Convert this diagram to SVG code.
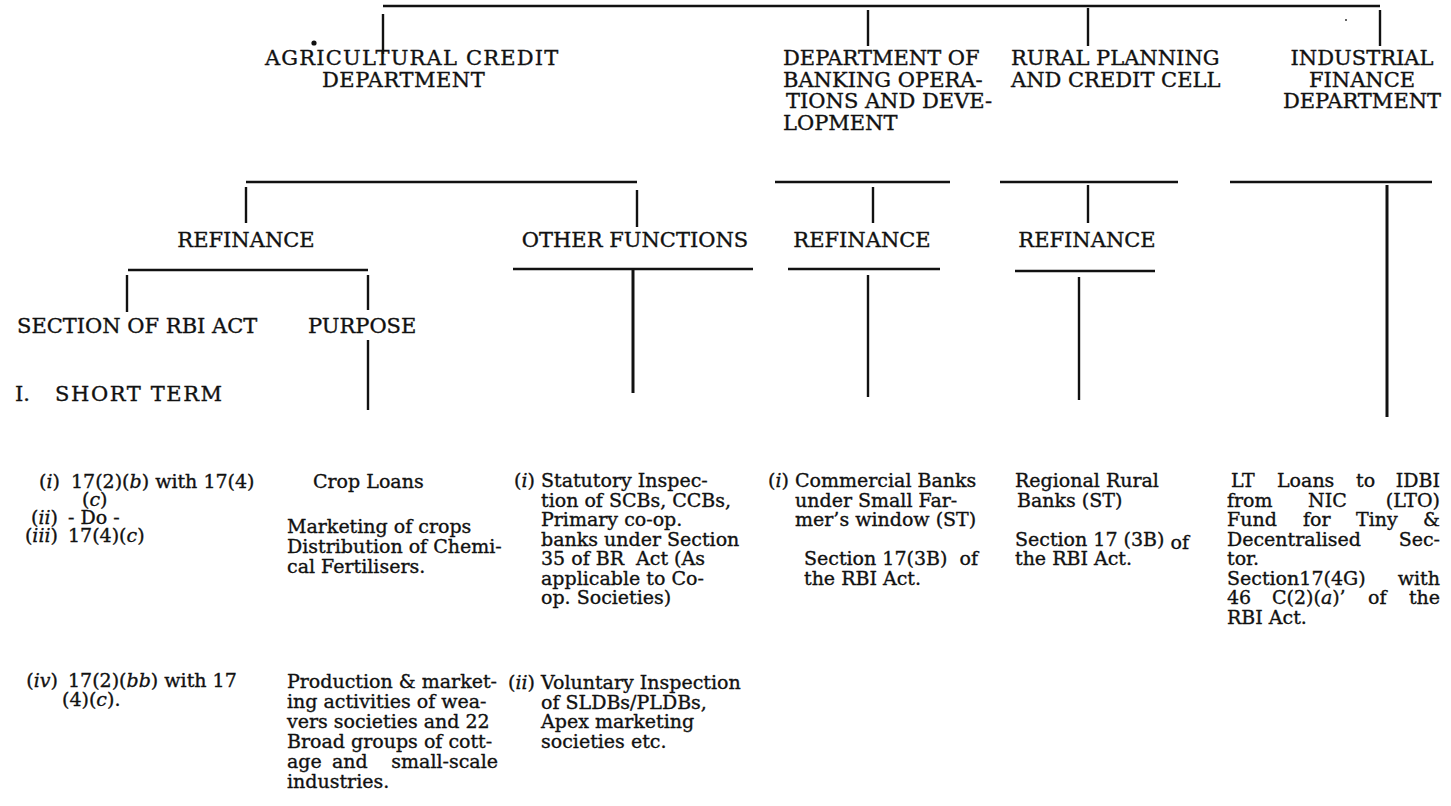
<svg xmlns="http://www.w3.org/2000/svg" width="1451" height="806" viewBox="0 0 1451 806">
<style>
  text { font-family: "DejaVu Serif", "Liberation Serif", serif; fill: #111; stroke: #111; stroke-width: 0.35px; }
  .h { font-size: 21px; }
  .b { font-size: 19px; }
  .it { font-style: italic; }
  .ln { stroke: #111; stroke-width: 2.4; fill: none; }
  .thick { stroke: #111; stroke-width: 3; fill: none; }
</style>
<rect width="1451" height="806" fill="#fff"/>
<g id="connectors">
  <path class="ln" d="M383,6 H1380"/>
  <path class="ln" d="M383,14 V54"/>
  <path class="ln" d="M868,10 V46"/>
  <path class="ln" d="M1088,8 V46"/>
  <path class="ln" d="M1380,10 V46"/>
  <path class="ln" d="M246,182 H637"/>
  <path class="ln" d="M246,187 V223"/>
  <path class="ln" d="M637,190 V227"/>
  <path class="ln" d="M128,270 H368"/>
  <path class="ln" d="M127,275 V312"/>
  <path class="ln" d="M368,275 V310"/>
  <path class="ln" d="M368,340 V410"/>
  <path class="ln" d="M513,269 H753"/>
  <path class="thick" d="M633,270 V393"/>
  <path class="ln" d="M775,182 H950"/>
  <path class="ln" d="M873,187 V223"/>
  <path class="ln" d="M788,269 H940"/>
  <path class="ln" d="M868,275 V397"/>
  <path class="ln" d="M1000,182 H1178"/>
  <path class="ln" d="M1088,185 V223"/>
  <path class="ln" d="M1015,271 H1155"/>
  <path class="ln" d="M1079,277 V400"/>
  <path class="ln" d="M1230,182 H1432"/>
  <path class="thick" d="M1387,185 V417"/>
</g>
<circle cx="314" cy="43" r="2.6" fill="#111"/>
<circle cx="1346" cy="20" r="1" fill="#333"/>
<g id="acd">
  <text class="h" x="265" y="65" letter-spacing="1.2">AGRICULTURAL CREDIT</text>
  <text class="h" x="322" y="86.5" letter-spacing="0.5">DEPARTMENT</text>
</g>
<g id="dbod">
  <text class="h" x="783" y="65">DEPARTMENT OF</text>
  <text class="h" x="783" y="86.5">BANKING OPERA-</text>
  <text class="h" x="786" y="108">TIONS AND DEVE-</text>
  <text class="h" x="783" y="129.5">LOPMENT</text>
</g>
<g id="rpcc">
  <text class="h" x="1011" y="65">RURAL PLANNING</text>
  <text class="h" x="1011" y="86.5">AND CREDIT CELL</text>
</g>
<g id="ifd">
  <text class="h" x="1362" y="65" text-anchor="middle">INDUSTRIAL</text>
  <text class="h" x="1362" y="86.5" text-anchor="middle">FINANCE</text>
  <text class="h" x="1362" y="108" text-anchor="middle">DEPARTMENT</text>
</g>
<g id="acd-refinance"><text class="h" x="246" y="247" text-anchor="middle">REFINANCE</text></g>
<g id="acd-other"><text class="h" x="635" y="247" text-anchor="middle">OTHER FUNCTIONS</text></g>
<g id="dbod-refinance"><text class="h" x="862" y="247" text-anchor="middle">REFINANCE</text></g>
<g id="rpcc-refinance"><text class="h" x="1087" y="247" text-anchor="middle">REFINANCE</text></g>
<g id="section"><text class="h" x="17" y="333">SECTION OF RBI ACT</text></g>
<g id="purpose"><text class="h" x="308" y="333">PURPOSE</text></g>
<g id="short-term"><text class="h" x="15" y="401">I.<tspan x="55" letter-spacing="1.6">SHORT TERM</tspan></text></g>
<g id="col-section">
  <text class="b" x="60" y="488" text-anchor="end">(<tspan class="it">i</tspan>)</text>
  <text class="b" x="71" y="488">17(2)(<tspan class="it">b</tspan>) with 17(4)</text>
  <text class="b" x="82" y="506">(<tspan class="it">c</tspan>)</text>
  <text class="b" x="58" y="524" text-anchor="end">(<tspan class="it">ii</tspan>)</text>
  <text class="b" x="68" y="524">- Do -</text>
  <text class="b" x="58" y="542" text-anchor="end">(<tspan class="it">iii</tspan>)</text>
  <text class="b" x="68" y="542">17(4)(<tspan class="it">c</tspan>)</text>
  <text class="b" x="58" y="687" text-anchor="end">(<tspan class="it">iv</tspan>)</text>
  <text class="b" x="68" y="687">17(2)(<tspan class="it">bb</tspan>) with 17</text>
  <text class="b" x="62" y="706">(4)(<tspan class="it">c</tspan>).</text>
</g>
<g id="col-purpose">
  <text class="b" x="313" y="488">Crop Loans</text>
  <text class="b" x="287" y="533">Marketing of crops</text>
  <text class="b" x="287" y="553">Distribution of Chemi-</text>
  <text class="b" x="287" y="573">cal Fertilisers.</text>
  <text class="b" x="287" y="688">Production &amp; market-</text>
  <text class="b" x="287" y="708">ing activities of wea-</text>
  <text class="b" x="287" y="728">vers societies and 22</text>
  <text class="b" x="287" y="748">Broad groups of cott-</text>
  <text class="b" y="768"><tspan x="287">age</tspan><tspan x="332">and</tspan><tspan x="498" text-anchor="end">small-scale</tspan></text>
  <text class="b" x="287" y="788">industries.</text>
</g>
<g id="col-other">
  <text class="b" x="535" y="487" text-anchor="end">(<tspan class="it">i</tspan>)</text>
  <text class="b" x="541" y="487">Statutory Inspec-</text>
  <text class="b" x="541" y="506.5">tion of SCBs, CCBs,</text>
  <text class="b" x="541" y="526">Primary co-op.</text>
  <text class="b" x="541" y="545.5">banks under Section</text>
  <text class="b" x="541" y="565" xml:space="preserve">35 of BR  Act (As</text>
  <text class="b" x="541" y="584.5">applicable to Co-</text>
  <text class="b" x="541" y="604">op. Societies)</text>
  <text class="b" x="535" y="689" text-anchor="end">(<tspan class="it">ii</tspan>)</text>
  <text class="b" x="541" y="689">Voluntary Inspection</text>
  <text class="b" x="541" y="708.5">of SLDBs/PLDBs,</text>
  <text class="b" x="541" y="728">Apex marketing</text>
  <text class="b" x="541" y="747.5">societies etc.</text>
</g>
<g id="col-dbod">
  <text class="b" x="789" y="487" text-anchor="end">(<tspan class="it">i</tspan>)</text>
  <text class="b" x="795" y="487">Commercial Banks</text>
  <text class="b" x="795" y="506.5">under Small Far-</text>
  <text class="b" x="795" y="526">mer’s window (ST)</text>
  <text class="b" x="804" y="565" xml:space="preserve">Section 17(3B)  of</text>
  <text class="b" x="804" y="584.5">the RBI Act.</text>
</g>
<g id="col-rpcc">
  <text class="b" x="1015" y="487">Regional Rural</text>
  <text class="b" x="1017" y="506.5">Banks (ST)</text>
  <text class="b" x="1015" y="545.5">Section 17 (3B) <tspan dy="3">of</tspan></text>
  <text class="b" x="1015" y="565">the RBI Act.</text>
</g>
<g id="col-ifd">
  <text class="b" y="487"><tspan x="1231">LT</tspan><tspan x="1277">Loans</tspan><tspan x="1356">to</tspan><tspan x="1440" text-anchor="end">IDBI</tspan></text>
  <text class="b" y="506.5"><tspan x="1227">from</tspan><tspan x="1308">NIC</tspan><tspan x="1440" text-anchor="end">(LTO)</tspan></text>
  <text class="b" y="526"><tspan x="1227">Fund</tspan><tspan x="1303">for</tspan><tspan x="1356">Tiny</tspan><tspan x="1440" text-anchor="end">&amp;</tspan></text>
  <text class="b" y="545.5"><tspan x="1227">Decentralised</tspan><tspan x="1440" text-anchor="end">Sec-</tspan></text>
  <text class="b" x="1227" y="565">tor.</text>
  <text class="b" y="584.5"><tspan x="1227">Section17(4G)</tspan><tspan x="1440" text-anchor="end">with</tspan></text>
  <text class="b" y="604"><tspan x="1227">46</tspan><tspan x="1272">C(2)(<tspan class="it">a</tspan>)’</tspan><tspan x="1368">of</tspan><tspan x="1440" text-anchor="end">the</tspan></text>
  <text class="b" x="1227" y="623.5">RBI Act.</text>
</g>
</svg>
